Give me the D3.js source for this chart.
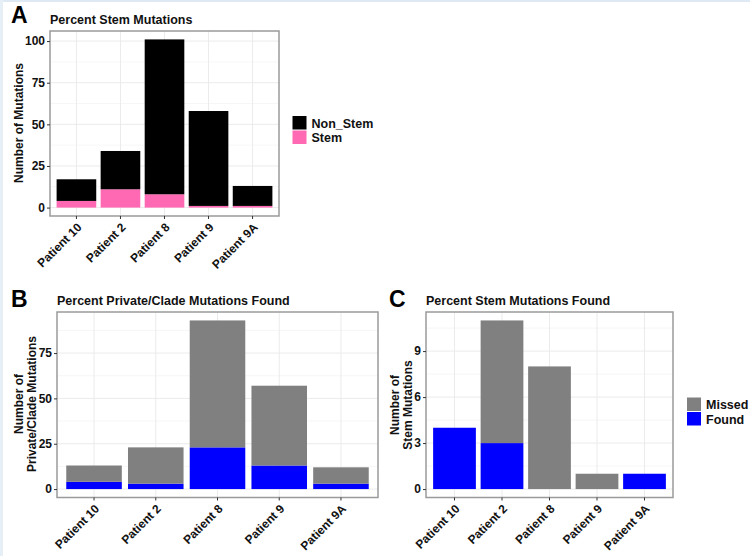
<!DOCTYPE html>
<html>
<head>
<meta charset="utf-8">
<script src="https://cdn.jsdelivr.net/npm/d3@7"></script>
<style>
  body { margin: 0; background: #fff; }
  svg { display: block; font-family: "Liberation Sans", Arial, sans-serif; }
  .tick-label { font-size: 12px; font-weight: bold; fill: #111; }
  .axis-title { font-size: 12px; font-weight: bold; fill: #111; }
  .plot-title { font-size: 12.5px; font-weight: bold; fill: #111; }
  .panel-letter { font-size: 23px; font-weight: bold; fill: #000; }
  .legend-label { font-size: 12.5px; font-weight: bold; fill: #111; }
</style>
</head>
<body>
<script>
// data
var patients = ["Patient 10", "Patient 2", "Patient 8", "Patient 9", "Patient 9A"];

var stemCounts    = [4, 11, 8, 1, 1];
var nonStemCounts = [13, 23, 93, 57, 12];

var privateFound  = [4, 3, 23, 13, 3];
var privateMissed = [9, 20, 70, 44, 9];

var stemFound  = [4, 3, 0, 0, 1];
var stemMissed = [0, 8, 8, 1, 0];

var ticksA = [0, 25, 50, 75, 100];
var ticksB = [0, 25, 50, 75];
var ticksC = [0, 3, 6, 9];

var width = 750, height = 556;

var svg = d3.select("body").append("svg")
    .attr("width", width)
    .attr("height", height);

svg.append("rect").attr("width", width).attr("height", height).attr("fill", "#fff");
// thin tinted frame along top and left of the original image
svg.append("rect").attr("x", 0).attr("y", 0).attr("width", width).attr("height", 2).attr("fill", "#dfe9f3");
svg.append("rect").attr("x", 0).attr("y", 0).attr("width", 3).attr("height", height).attr("fill", "#e6eef6");

function drawPanel(opt) {
    var box = opt.box;
    var g = svg.append("g");

    // stack series bottom -> top
    var rows = patients.map(function(p, i) {
        var r = { patient: p };
        opt.series.forEach(function(s) { r[s.key] = s.values[i]; });
        return r;
    });
    var stack = d3.stack().keys(opt.series.map(function(s) { return s.key; }))(rows);
    var maxTotal = d3.max(rows, function(r) {
        return d3.sum(opt.series, function(s) { return r[s.key]; });
    });

    var x = d3.scaleBand()
        .domain(patients)
        .range([box.left, box.right])
        .paddingInner(0.1)
        .paddingOuter(0.15);

    var pad = maxTotal * 0.05;
    var y = d3.scaleLinear()
        .domain([-pad, maxTotal + pad])
        .range([box.bottom, box.top]);

    // minor grid
    var step = opt.ticks[1] - opt.ticks[0];
    var minor = [];
    for (var v = opt.ticks[0] + step / 2; v < maxTotal + pad; v += step) minor.push(v);
    g.selectAll(".minor").data(minor).enter().append("line")
        .attr("x1", box.left).attr("x2", box.right)
        .attr("y1", function(d) { return y(d); })
        .attr("y2", function(d) { return y(d); })
        .attr("stroke", "#f4f4f4").attr("stroke-width", 0.8);

    // major grid
    g.selectAll(".major-y").data(opt.ticks).enter().append("line")
        .attr("x1", box.left).attr("x2", box.right)
        .attr("y1", function(d) { return y(d); })
        .attr("y2", function(d) { return y(d); })
        .attr("stroke", "#ebebeb").attr("stroke-width", 1);
    g.selectAll(".major-x").data(patients).enter().append("line")
        .attr("y1", box.top).attr("y2", box.bottom)
        .attr("x1", function(d) { return x(d) + x.bandwidth() / 2; })
        .attr("x2", function(d) { return x(d) + x.bandwidth() / 2; })
        .attr("stroke", "#ebebeb").attr("stroke-width", 1);

    // bars
    stack.forEach(function(layer, li) {
        g.append("g").attr("fill", opt.series[li].color)
            .selectAll("rect").data(layer).enter().append("rect")
            .attr("x", function(d) { return x(d.data.patient); })
            .attr("width", x.bandwidth())
            .attr("y", function(d) { return y(d[1]); })
            .attr("height", function(d) { return y(d[0]) - y(d[1]); });
    });

    // panel border
    g.append("rect")
        .attr("x", box.left).attr("y", box.top)
        .attr("width", box.right - box.left).attr("height", box.bottom - box.top)
        .attr("fill", "none").attr("stroke", "#9a9a9a").attr("stroke-width", 1.5);

    // y axis
    var yAxis = g.append("g")
        .attr("transform", "translate(" + box.left + ",0)")
        .call(d3.axisLeft(y).tickValues(opt.ticks).tickSize(3).tickPadding(2));
    yAxis.select(".domain").remove();
    yAxis.selectAll("line").attr("stroke", "#333");
    yAxis.selectAll("text").attr("class", "tick-label").attr("fill", null);
    yAxis.attr("font-family", null).attr("font-size", null);

    // x axis
    var xAxis = g.append("g")
        .attr("transform", "translate(0," + box.bottom + ")")
        .call(d3.axisBottom(x).tickSize(3));
    xAxis.select(".domain").remove();
    xAxis.selectAll("line").attr("stroke", "#333");
    xAxis.attr("font-family", null).attr("font-size", null);
    xAxis.selectAll("text")
        .attr("class", "tick-label").attr("fill", null)
        .attr("text-anchor", "end")
        .attr("y", null).attr("dy", null)
        .attr("transform", "translate(6,12) rotate(-45)");

    // y title
    var yt = svg.append("text")
        .attr("class", "axis-title")
        .attr("text-anchor", "middle")
        .attr("transform", "translate(" + opt.yTitleX + "," + opt.yTitleY + ") rotate(-90)");
    opt.yTitle.forEach(function(line, i) {
        yt.append("tspan").attr("x", 0).attr("y", i * 13).text(line);
    });

    // title and letter
    svg.append("text").attr("class", "plot-title")
        .attr("x", box.left).attr("y", opt.titleY).text(opt.title);
    svg.append("text").attr("class", "panel-letter")
        .attr("x", opt.letterX).attr("y", opt.letterY).text(opt.letter);

    // legend (top series listed first)
    if (opt.legend) {
        var legendItems = opt.series.slice().reverse();
        var lg = svg.append("g").attr("transform", "translate(" + opt.legend.x + "," + opt.legend.y + ")");
        legendItems.forEach(function(s, i) {
            lg.append("rect")
                .attr("x", 0).attr("y", i * 14.5)
                .attr("width", 14).attr("height", 13.5)
                .attr("fill", s.color);
            lg.append("text").attr("class", "legend-label")
                .attr("x", 19).attr("y", i * 14.5 + 11.5)
                .text(s.key);
        });
    }
}

drawPanel({
    box: { left: 50, top: 31, right: 279, bottom: 216 },
    series: [
        { key: "Stem", values: stemCounts, color: "#ff69b4" },
        { key: "Non_Stem", values: nonStemCounts, color: "#000000" }
    ],
    ticks: ticksA,
    title: "Percent Stem Mutations", titleY: 23.5,
    letter: "A", letterX: 11, letterY: 23,
    yTitle: ["Number of Mutations"], yTitleX: 22.5, yTitleY: 123,
    legend: { x: 292.5, y: 116 }
});

drawPanel({
    box: { left: 57, top: 312, right: 378, bottom: 497.5 },
    series: [
        { key: "Found", values: privateFound, color: "#0000ff" },
        { key: "Missed", values: privateMissed, color: "#808080" }
    ],
    ticks: ticksB,
    title: "Percent Private/Clade Mutations Found", titleY: 305,
    letter: "B", letterX: 11, letterY: 307,
    yTitle: ["Number of", "Private/Clade Mutations"], yTitleX: 23, yTitleY: 404
});

drawPanel({
    box: { left: 426, top: 312, right: 673, bottom: 497.5 },
    series: [
        { key: "Found", values: stemFound, color: "#0000ff" },
        { key: "Missed", values: stemMissed, color: "#808080" }
    ],
    ticks: ticksC,
    title: "Percent Stem Mutations Found", titleY: 305,
    letter: "C", letterX: 389, letterY: 307,
    yTitle: ["Number of", "Stem Mutations"], yTitleX: 398.5, yTitleY: 405,
    legend: { x: 687, y: 397.5 }
});
</script>
</body>
</html>
